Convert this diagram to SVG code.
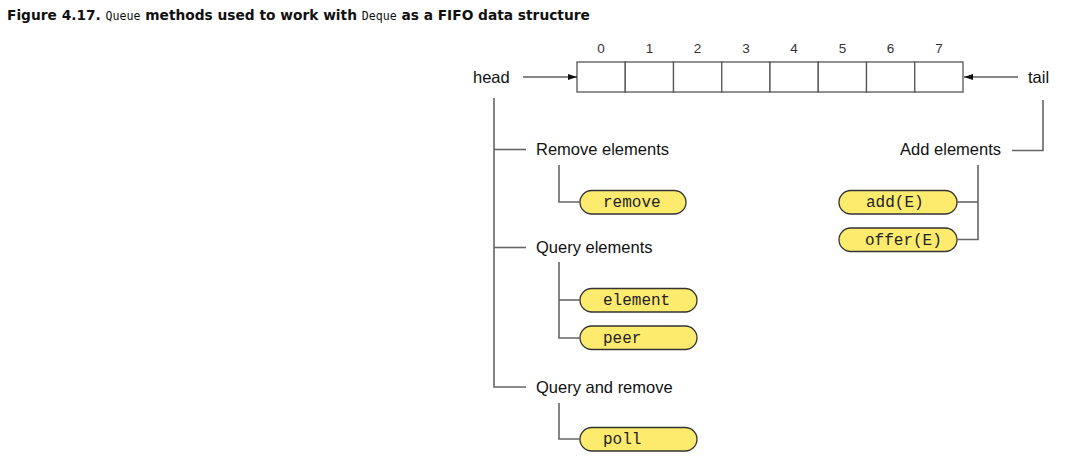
<svg xmlns="http://www.w3.org/2000/svg" width="1076" height="462" viewBox="0 0 1076 462">
<style>
.title{font-family:"DejaVu Sans",Verdana,sans-serif;font-weight:bold;font-size:13.75px;fill:#111}
.tmono{font-family:"DejaVu Sans Mono",monospace;font-weight:normal;font-size:11.6px}
.lbl{font-family:"Liberation Sans",Arial,sans-serif;font-size:16.5px;fill:#111}
.idx{font-family:"Liberation Sans",Arial,sans-serif;font-size:13.5px;fill:#333;text-anchor:middle}
.code{font-family:"Liberation Mono","Courier New",monospace;font-size:16px;fill:#222}
.pill{fill:#FDEB6E;stroke:#333;stroke-width:1.3}
.cell{fill:#fff;stroke:#555;stroke-width:1.3}
.ln{fill:none;stroke:#666;stroke-width:1.6}
.arr{fill:none;stroke:#111;stroke-width:1.1}
</style>
<defs>
<marker id="ah" markerWidth="10" markerHeight="8" refX="9" refY="4" orient="auto" markerUnits="userSpaceOnUse">
<path d="M0,1 L9,4 L0,7 Z" fill="#111"/>
</marker>
</defs>
<rect width="1076" height="462" fill="#fff"/>
<text class="title" x="7" y="20">Figure 4.17. <tspan class="tmono">Queue</tspan> methods used to work with <tspan class="tmono">Deque</tspan> as a FIFO data structure</text>

<g id="array">
<rect class="cell" x="577" y="62" width="48.25" height="30"/>
<rect class="cell" x="625.25" y="62" width="48.25" height="30"/>
<rect class="cell" x="673.5" y="62" width="48.25" height="30"/>
<rect class="cell" x="721.75" y="62" width="48.25" height="30"/>
<rect class="cell" x="770" y="62" width="48.25" height="30"/>
<rect class="cell" x="818.25" y="62" width="48.25" height="30"/>
<rect class="cell" x="866.5" y="62" width="48.25" height="30"/>
<rect class="cell" x="914.75" y="62" width="48.25" height="30"/>
<text class="idx" x="601" y="53">0</text>
<text class="idx" x="649.4" y="53">1</text>
<text class="idx" x="697.6" y="53">2</text>
<text class="idx" x="745.9" y="53">3</text>
<text class="idx" x="794.1" y="53">4</text>
<text class="idx" x="842.4" y="53">5</text>
<text class="idx" x="890.6" y="53">6</text>
<text class="idx" x="938.9" y="53">7</text>
</g>
<g id="head"><text class="lbl" x="473" y="83">head</text></g>
<g id="tail"><text class="lbl" x="1028" y="83">tail</text></g>
<g id="remove-elements"><text class="lbl" x="536" y="155">Remove elements</text></g>
<g id="query-elements"><text class="lbl" x="536" y="253">Query elements</text></g>
<g id="query-and-remove"><text class="lbl" x="536" y="393">Query and remove</text></g>
<g id="add-elements"><text class="lbl" x="1001" y="155" text-anchor="end">Add elements</text></g>

<g id="m-remove"><rect class="pill" x="580" y="190.5" width="106" height="23.5" rx="11.75"/><text class="code" x="603" y="207">remove</text></g>
<g id="m-element"><rect class="pill" x="580" y="288.5" width="117" height="23.5" rx="11.75"/><text class="code" x="603" y="305">element</text></g>
<g id="m-peer"><rect class="pill" x="580" y="326" width="117" height="23.5" rx="11.75"/><text class="code" x="603" y="342.5">peer</text></g>
<g id="m-poll"><rect class="pill" x="580" y="427.5" width="117" height="23.5" rx="11.75"/><text class="code" x="603" y="444">poll</text></g>
<g id="m-add"><rect class="pill" x="839" y="190.5" width="118" height="23.5" rx="11.75"/><text class="code" x="866" y="207">add(E)</text></g>
<g id="m-offer"><rect class="pill" x="839" y="228" width="118" height="23.5" rx="11.75"/><text class="code" x="865" y="244.5">offer(E)</text></g>

<g id="connectors">
<line class="arr" x1="523" y1="77" x2="577" y2="77" marker-end="url(#ah)"/>
<line class="arr" x1="1018" y1="77" x2="964" y2="77" marker-end="url(#ah)"/>
<path class="ln" d="M494,98 V387 H526"/>
<path class="ln" d="M494,149.5 H526"/>
<path class="ln" d="M494,247.5 H526"/>
<path class="ln" d="M559,165 V202 H580"/>
<path class="ln" d="M559,262 V338 H580"/>
<path class="ln" d="M559,300 H580"/>
<path class="ln" d="M559,403 V439 H580"/>
<path class="ln" d="M1043,100 V150.5 H1012"/>
<path class="ln" d="M978,165 V239.5 H957"/>
<path class="ln" d="M957,202 H978"/>
</g>
</svg>
